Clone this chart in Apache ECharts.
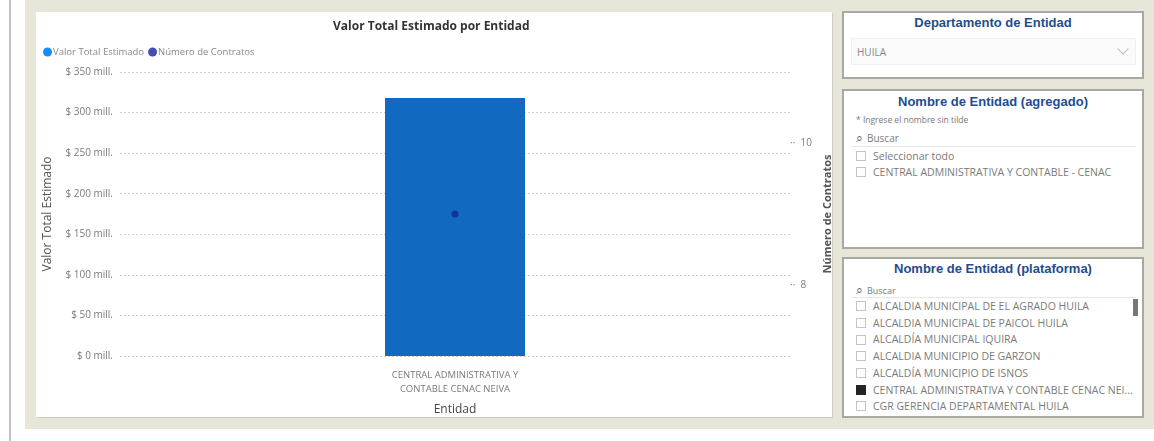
<!DOCTYPE html>
<html>
<head>
<meta charset="utf-8">
<script src="https://cdn.jsdelivr.net/npm/echarts@6/dist/echarts.min.js"></script>
<style>
  html,body{margin:0;padding:0;width:1154px;height:441px;background:#fff;overflow:hidden;font-family:"Open Sans","Noto Sans",sans-serif;}
  .abs{position:absolute;}
  #vline{left:9px;top:0;width:2px;height:441px;background:#c4c4c4;}
  #bg{left:25px;top:0;width:1129px;height:429px;background:#e8e5d9;}
  #chartPanel{left:36px;top:12px;width:796px;height:405px;background:#fff;box-shadow:1px 1px 1px #d2d0c6;}
  .slicer{background:#fff;border:2px solid #a9a9a4;box-sizing:border-box;left:842px;width:302px;}
  .stitle{position:absolute;left:0;right:0;text-align:center;color:#1f4d8f;font-family:"Liberation Sans",Arial,sans-serif;font-weight:bold;font-size:13px;}
  .item{position:absolute;left:12px;font-size:10.5px;color:#7a7a7a;white-space:nowrap;height:14px;line-height:14px;}
  .cb{display:inline-block;width:10px;height:10px;border:1px solid #c4c4c4;vertical-align:middle;margin-right:7px;margin-top:-2px;box-sizing:border-box;}
  .cb.on{background:#252423;border-color:#252423;}
</style>
</head>
<body>
<div id="vline" class="abs"></div>
<div id="bg" class="abs"></div>
<div id="chartPanel" class="abs"></div>
<div id="chart" class="abs" style="left:36px;top:12px;width:796px;height:405px;"></div>

<div class="abs slicer" style="top:11px;height:68px;">
  <div class="stitle" style="top:2px;">Departamento de Entidad</div>
  <div class="abs" style="left:7px;top:25px;width:285px;height:27px;background:#fafafa;border:1px solid #f0f0f0;box-sizing:border-box;">
    <div class="abs" style="left:5px;top:6px;font-size:10px;color:#888;">HUILA</div>
    <div class="abs" style="right:8px;top:6px;width:7px;height:7px;border-right:1px solid #bbb;border-bottom:1px solid #bbb;transform:rotate(45deg);"></div>
  </div>
</div>

<div class="abs slicer" style="top:89px;height:160px;">
  <div class="stitle" style="top:3px;">Nombre de Entidad (agregado)</div>
  <div class="item" style="top:22px;font-size:8.5px;color:#777;">* Ingrese el nombre sin tilde</div>
  <div class="item" style="top:40px;font-size:10px;"><span style="font-size:12px;color:#666;margin-right:4px;">&#x2315;</span>Buscar</div>
  <div class="abs" style="left:8px;top:55px;width:284px;height:1px;background:#e6e6e6;"></div>
  <div class="item" style="top:58px;"><span class="cb"></span>Seleccionar todo</div>
  <div class="item" style="top:74px;"><span class="cb"></span>CENTRAL ADMINISTRATIVA Y CONTABLE - CENAC</div>
</div>

<div class="abs slicer" style="top:257px;height:161px;">
  <div class="stitle" style="top:2px;">Nombre de Entidad (plataforma)</div>
  <div class="item" style="top:24px;font-size:9px;"><span style="font-size:12px;color:#666;margin-right:4px;">&#x2315;</span>Buscar</div>
  <div class="abs" style="left:8px;top:38px;width:284px;height:1px;background:#e6e6e6;"></div>
  <div class="abs" style="left:289px;top:40px;width:5px;height:17px;background:#777;"></div>
  <div id="plist"></div>
</div>

<script>
// ---- data ----
const categories = ["CENTRAL ADMINISTRATIVA Y\nCONTABLE CENAC NEIVA"];
const valorTotal = [318];          // millones
const numeroContratos = [9];
const leftTicks = [0, 50, 100, 150, 200, 250, 300, 350];
const rightTicksShown = [8, 10];
const plataformaItems = [
  "ALCALDIA MUNICIPAL DE EL AGRADO HUILA",
  "ALCALDIA MUNICIPAL DE PAICOL HUILA",
  "ALCALDÍA MUNICIPAL IQUIRA",
  "ALCALDIA MUNICIPIO DE GARZON",
  "ALCALDÍA MUNICIPIO DE ISNOS",
  "CENTRAL ADMINISTRATIVA Y CONTABLE CENAC NEI...",
  "CGR GERENCIA DEPARTAMENTAL HUILA"
];
const plataformaChecked = [false, false, false, false, false, true, false];

// slicer list
const pl = document.getElementById('plist');
plataformaItems.forEach((t, i) => {
  const d = document.createElement('div');
  d.className = 'item';
  d.style.top = (40 + i * 16.7) + 'px';
  d.innerHTML = '<span class="cb' + (plataformaChecked[i] ? ' on' : '') + '"></span>' + t;
  pl.appendChild(d);
});

const chart = echarts.init(document.getElementById('chart'));
const grey = '#7a7a7a';
chart.setOption({
  animation: false,
  textStyle: { fontFamily: '"Open Sans","Noto Sans",sans-serif' },
  title: {
    text: 'Valor Total Estimado por Entidad',
    left: 292, top: 4,
    textStyle: { fontSize: 12, fontWeight: 'bold', color: '#333', fontFamily: '"Open Sans",sans-serif' }
  },
  legend: {
    left: 2, top: 30, itemGap: 4, itemWidth: 9, itemHeight: 9, icon: 'circle',
    textStyle: { fontSize: 9.5, color: '#888', padding: [0, 0, 0, -4] },
    data: [
      { name: 'Valor Total Estimado', itemStyle: { color: '#118DFF' } },
      { name: 'Número de Contratos', itemStyle: { color: '#12239E' } }
    ]
  },
  grid: { left: 84, right: 42, top: 60, bottom: 61, outerBoundsMode: 'none', containLabel: false },
  xAxis: {
    type: 'category', data: categories,
    axisLine: { show: false }, axisTick: { show: false },
    axisLabel: { fontSize: 9.5, color: grey, lineHeight: 14, margin: 12 },
    name: 'Entidad', nameLocation: 'middle', nameGap: 48,
    nameTextStyle: { fontSize: 12, color: '#444' }
  },
  yAxis: [
    {
      type: 'value', min: 0, max: 350, interval: 50,
      axisLabel: { fontSize: 10, color: grey, margin: 7,
        formatter: v => leftTicks.includes(v) ? '$ ' + v + ' mill.' : '' },
      splitLine: { lineStyle: { type: [2, 2], color: '#d0d0d0' } },
      name: 'Valor Total Estimado', nameLocation: 'middle', nameGap: 66, nameRotate: 90,
      nameTextStyle: { fontSize: 12, color: '#555' }
    },
    {
      type: 'value', min: 7, max: 11, interval: 1, position: 'right',
      splitLine: { show: false },
      axisLine: { show: false },
      axisTick: { show: false },
      axisLabel: { fontSize: 10, color: grey, margin: 0,
        formatter: v => rightTicksShown.includes(v) ? '··  ' + v : '' },
      name: 'Número de Contratos', nameLocation: 'middle', nameGap: 29, nameRotate: 90,
      nameTextStyle: { fontSize: 11, fontWeight: 'bold', color: '#555' }
    }
  ],
  series: [
    {
      name: 'Valor Total Estimado', type: 'bar', data: valorTotal, barWidth: 140,
      itemStyle: { color: '#1169C0' }, yAxisIndex: 0
    },
    {
      name: 'Número de Contratos', type: 'scatter', data: numeroContratos, yAxisIndex: 1,
      symbolSize: 7, itemStyle: { color: '#12239E' }
    }
  ]
});
</script>
</body>
</html>
